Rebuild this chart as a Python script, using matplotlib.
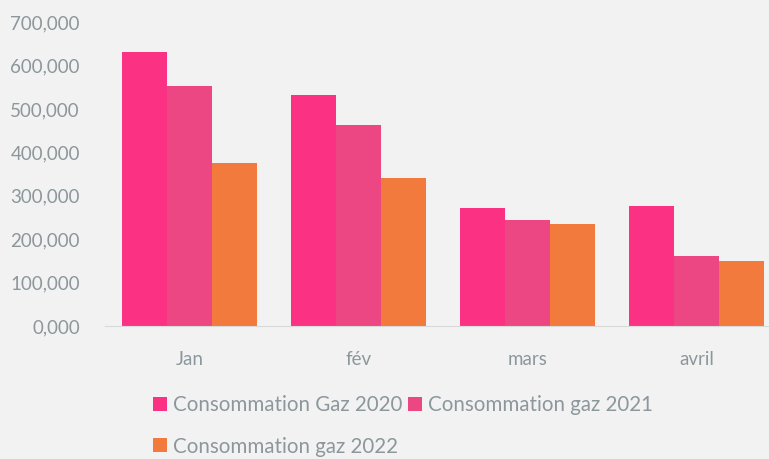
import numpy as np
import matplotlib.pyplot as plt

mois = ['Jan', 'fév', 'mars', 'avril']
gaz_2020 = [631000, 532000, 272000, 276000]
gaz_2021 = [553000, 463000, 244000, 161000]
gaz_2022 = [376000, 341000, 235000, 150000]

plt.rcParams['font.family'] = ['Lato', 'DejaVu Sans']

fig = plt.figure(figsize=(7.69, 4.59), dpi=100, facecolor='#f2f2f2')
ax = fig.add_axes([0.1365, 0.2898, 0.879, 0.662])
ax.set_facecolor('#f2f2f2')

x = np.arange(len(mois))
w = 0.8 / 3
b1 = ax.bar(x - w, gaz_2020, w, color='#fb3284', label='Consommation Gaz 2020')
b2 = ax.bar(x, gaz_2021, w, color='#ec4683', label='Consommation gaz 2021')
b3 = ax.bar(x + w, gaz_2022, w, color='#f27a3c', label='Consommation gaz 2022')

ax.set_xlim(-0.5, 3.5)
ax.set_ylim(0, 700000)
ax.set_yticks(np.arange(0, 700001, 100000))
ax.set_yticklabels([f'{v // 1000},000' for v in range(0, 700001, 100000)])
ax.set_xticks(x)
ax.set_xticklabels(mois)
ax.tick_params(length=0, colors='#8c979c', labelsize=13.5)
ax.tick_params(axis='x', pad=18)
ax.tick_params(axis='y', pad=18)
for s in ['top', 'right', 'left']:
    ax.spines[s].set_visible(False)
ax.spines['bottom'].set_color('#d9d9d9')

leg = fig.legend([b1, b3, b2],
                 ['Consommation Gaz 2020', 'Consommation gaz 2022', 'Consommation gaz 2021'],
                 ncol=2, loc='upper left', bbox_to_anchor=(0.185, 0.162),
                 frameon=False, fontsize=14.8, handlelength=0.68, handleheight=0.68,
                 handletextpad=0.3, columnspacing=0.3, labelspacing=1.05, borderpad=0)
for t in leg.get_texts():
    t.set_color('#8c979c')

fig.savefig('out.png', dpi=100, facecolor=fig.get_facecolor())
